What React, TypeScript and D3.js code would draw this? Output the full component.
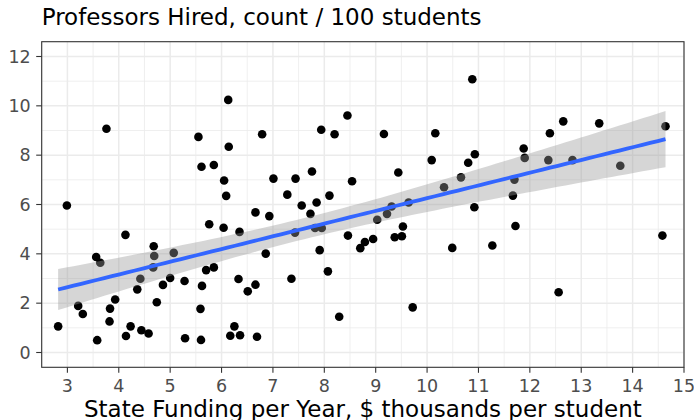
import React from "react";
import * as d3 from "d3";

const funding: number[] = [
  2.82, 2.99, 3.21, 3.30, 3.56, 3.64, 3.58, 3.76, 3.93, 3.83,
  3.82, 4.13, 4.14, 4.23, 4.44, 4.58, 4.36, 4.42, 4.68, 4.69,
  4.67, 4.74, 4.86, 5.00, 5.07, 5.28, 5.29, 5.62, 5.59, 5.60,
  5.70, 5.85, 5.76, 6.04, 6.09, 6.35, 6.66, 6.33, 6.51, 6.66,
  6.25, 6.17, 6.36, 6.69, 5.55, 6.13, 6.14, 6.79, 5.61, 5.85,
  6.05, 7.94, 8.20, 8.45, 9.16, 10.16, 10.09, 9.44, 7.01, 7.44,
  7.76, 7.28, 7.56, 7.85, 8.10, 8.54, 6.93, 7.73, 10.33, 10.66,
  9.31, 9.64, 9.22, 9.03, 7.43, 7.82, 7.95, 7.91, 6.86, 8.46,
  8.70, 8.79, 8.95, 9.37, 9.51, 9.53, 10.49, 8.07, 7.36, 8.29,
  9.72, 10.88, 12.65, 13.35, 14.64, 12.39, 11.88, 11.90, 12.36, 12.83,
  13.76, 10.93, 10.80, 11.70, 11.67, 10.92, 11.72, 11.27, 14.58, 12.56,
];

const hired: number[] = [
  1.06, 5.96, 1.89, 1.56, 3.87, 3.64, 0.50, 9.07, 2.15, 1.78,
  1.26, 4.77, 0.67, 1.06, 0.90, 0.77, 2.56, 2.99, 4.31, 3.91,
  3.45, 2.04, 2.74, 3.02, 4.04, 2.90, 0.58, 2.70, 1.77, 0.51,
  3.34, 3.45, 5.20, 5.06, 6.35, 4.89, 5.68, 2.98, 2.48, 2.75,
  1.06, 0.68, 0.70, 0.64, 8.74, 10.24, 8.34, 8.85, 7.53, 7.60,
  6.97, 9.03, 8.85, 9.61, 8.86, 8.89, 7.80, 7.30, 7.05, 7.05,
  7.34, 6.40, 5.96, 6.08, 6.36, 6.94, 5.53, 5.62, 6.70, 7.10,
  5.92, 6.08, 5.62, 5.38, 4.86, 5.05, 5.05, 4.15, 4.01, 4.74,
  4.23, 4.48, 4.60, 4.67, 4.71, 5.11, 4.24, 3.29, 2.99, 1.45,
  1.83, 11.08, 9.37, 9.29, 9.17, 8.89, 8.27, 7.89, 7.80, 7.80,
  7.57, 8.04, 7.69, 7.01, 6.36, 5.89, 5.13, 4.34, 4.74, 2.44,
];

const xTicks: number[] = [3, 4, 5, 6, 7, 8, 9, 10, 11, 12, 13, 14, 15];
const yTicks: number[] = [0, 2, 4, 6, 8, 10, 12];
const xMinor: number[] = [2.5, 3.5, 4.5, 5.5, 6.5, 7.5, 8.5, 9.5, 10.5, 11.5, 12.5, 13.5, 14.5];
const yMinor: number[] = [1, 3, 5, 7, 9, 11];

const titleText = "Professors Hired, count / 100 students";
const xTitleText = "State Funding per Year, $ thousands per student";

const W = 694;
const H = 420;
const L = 41.7;
const R = 684;
const T = 41.7;
const B = 367.3;
const FONT = "DejaVu Sans, sans-serif";

export default function App() {
  const x = d3.scaleLinear().domain([2.5, 15]).range([L, R]);
  const y = d3.scaleLinear().domain([-0.6, 12.6]).range([B, T]);

  const n = funding.length;
  const xbar = d3.mean(funding) as number;
  const ybar = d3.mean(hired) as number;
  let sxx = 0;
  let sxy = 0;
  for (let i = 0; i < n; i++) {
    sxx += (funding[i] - xbar) ** 2;
    sxy += (funding[i] - xbar) * (hired[i] - ybar);
  }
  const slope = sxy / sxx;
  const icpt = ybar - slope * xbar;
  let sse = 0;
  for (let i = 0; i < n; i++) {
    sse += (hired[i] - (icpt + slope * funding[i])) ** 2;
  }
  const s = Math.sqrt(sse / (n - 2));
  const tq = 1.982;
  const [xmin, xmax] = d3.extent(funding) as [number, number];
  const grid = d3.range(80).map((i) => xmin + ((xmax - xmin) * i) / 79);
  const fit = grid.map((gx) => {
    const yh = icpt + slope * gx;
    const se = s * Math.sqrt(1 / n + (gx - xbar) ** 2 / sxx);
    return { x: gx, y: yh, lo: yh - tq * se, hi: yh + tq * se };
  });

  const area = d3
    .area<{ x: number; y: number; lo: number; hi: number }>()
    .x((d) => x(d.x))
    .y0((d) => y(d.lo))
    .y1((d) => y(d.hi));
  const line = d3
    .line<{ x: number; y: number }>()
    .x((d) => x(d.x))
    .y((d) => y(d.y));

  return (
    <svg
      width={W}
      height={H}
      style={{ position: "absolute", left: 0, top: 0, background: "#fff" }}
      fontFamily={FONT}
    >
      <rect x={0} y={0} width={W} height={H} fill="#fff" />
      <g>
        {xMinor.map((v) => (
          <line key={"xm" + v} x1={x(v)} x2={x(v)} y1={T} y2={B} stroke="#EBEBEB" strokeWidth={0.8} />
        ))}
        {yMinor.map((v) => (
          <line key={"ym" + v} x1={L} x2={R} y1={y(v)} y2={y(v)} stroke="#EBEBEB" strokeWidth={0.8} />
        ))}
        {xTicks.map((v) => (
          <line key={"xg" + v} x1={x(v)} x2={x(v)} y1={T} y2={B} stroke="#EBEBEB" strokeWidth={1.5} />
        ))}
        {yTicks.map((v) => (
          <line key={"yg" + v} x1={L} x2={R} y1={y(v)} y2={y(v)} stroke="#EBEBEB" strokeWidth={1.5} />
        ))}
      </g>
      <g>
        {funding.map((v, i) => (
          <circle key={"p" + i} cx={x(v)} cy={y(hired[i])} r={4.3} fill="#000" />
        ))}
      </g>
      <path d={area(fit) || ""} fill="#999999" fillOpacity={0.4} />
      <path d={line(fit) || ""} fill="none" stroke="#3366FF" strokeWidth={3.8} />
      <rect x={L} y={T} width={R - L} height={B - T} fill="none" stroke="#333333" strokeWidth={1.1} />
      <g>
        {yTicks.map((v) => (
          <g key={"yt" + v}>
            <line x1={L - 5.5} x2={L} y1={y(v)} y2={y(v)} stroke="#333333" strokeWidth={1.1} />
            <text x={L - 11} y={y(v)} dy="0.36em" textAnchor="end" fontSize={17.5} fill="#4D4D4D">
              {v}
            </text>
          </g>
        ))}
        {xTicks.map((v) => (
          <g key={"xt" + v}>
            <line x1={x(v)} x2={x(v)} y1={B} y2={B + 5.5} stroke="#333333" strokeWidth={1.1} />
            <text x={x(v)} y={391.7} textAnchor="middle" fontSize={17.5} fill="#4D4D4D">
              {v}
            </text>
          </g>
        ))}
      </g>
      <text x={L} y={25} fontSize={23} fill="#000">
        {titleText}
      </text>
      <text x={(L + R) / 2} y={416.7} textAnchor="middle" fontSize={23} fill="#000">
        {xTitleText}
      </text>
    </svg>
  );
}
